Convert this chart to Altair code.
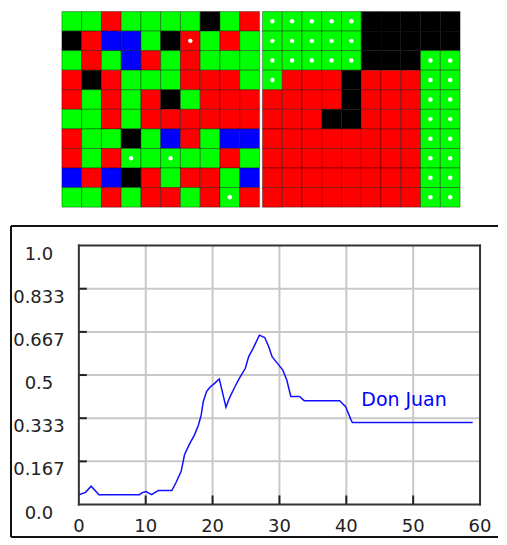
import altair as alt
import pandas as pd

# ---------------- data ----------------
left_rows = [
    "GGRGGGGKGR",
    "KRBBGKRGRG",
    "GRGBRGRGGG",
    "RKRGGGRRRG",
    "RGRGRKGRRR",
    "GGRGRRRRRR",
    "RGGKGBRGBB",
    "RGRGGGGGRG",
    "BRBKRGRRGB",
    "GGRGRRGRGR",
]
left_dots = [(1, 6), (7, 3), (7, 5), (9, 8)]

right_rows = [
    "GGGGGKKKKK",
    "GGGGGKKKKK",
    "GGGGGKKKGG",
    "GRRRKRRRGG",
    "RRRRKRRRGG",
    "RRRKKRRRGG",
    "RRRRRRRRGG",
    "RRRRRRRRGG",
    "RRRRRRRRGG",
    "RRRRRRRRGG",
]

line_x = [0, 1.0, 1.84, 3.0, 9.06, 9.56, 10.06, 10.4, 10.9, 11.4, 11.9, 13.9, 14.5, 15.3,
          15.8, 16.5, 17.3, 17.9, 18.3, 18.6, 19.1, 19.6, 20.3, 21.0, 21.4, 22.0, 22.5,
          23.3, 24.0, 24.9, 25.4, 26.1, 27.0, 27.8, 28.4, 28.9, 29.7, 30.5, 31.1, 31.7,
          33.0, 33.7, 39.0, 39.9, 40.7, 40.9, 58.9]
line_y = [0.038, 0.047, 0.071, 0.038, 0.038, 0.047, 0.050, 0.045, 0.038, 0.047, 0.054,
          0.054, 0.083, 0.128, 0.192, 0.231, 0.269, 0.308, 0.346, 0.397, 0.436, 0.453,
          0.468, 0.485, 0.442, 0.376, 0.410, 0.453, 0.487, 0.526, 0.571, 0.605, 0.654,
          0.645, 0.609, 0.571, 0.545, 0.519, 0.481, 0.417, 0.417, 0.401, 0.401, 0.378,
          0.327, 0.317, 0.317]
series_label = "Don Juan"

x_ticks = [0, 10, 20, 30, 40, 50, 60]
x_tick_labels = ["0", "10", "20", "30", "40", "50", "60"]
y_ticks = [0.0, 1 / 6, 2 / 6, 0.5, 4 / 6, 5 / 6, 1.0]
y_tick_labels = ["0.0", "0.167", "0.333", "0.5", "0.667", "0.833", "1.0"]

color_codes = ["G", "R", "B", "K"]
color_values = ["#00ff00", "#ff0000", "#0000ff", "#000000"]

W = 489

# ---------------- top grids ----------------
GX = [-2.6263, 22.0707]
right_offset = 10.1515

cells = []
dots = []
for off, rows, dotmode in [(0.0, left_rows, "list"), (right_offset, right_rows, "green")]:
    for r, row in enumerate(rows):
        for c, ch in enumerate(row):
            cells.append({"x": off + c, "x2": off + c + 1, "y": r, "y2": r + 1, "code": ch})
            has_dot = (r, c) in left_dots if dotmode == "list" else ch == "G"
            if has_dot:
                dots.append({"x": off + c + 0.5, "y": r + 0.5})
cells_df = pd.DataFrame(cells)
dots_df = pd.DataFrame(dots)

gxs = alt.Scale(domain=GX, nice=False, zero=False)
gys = alt.Scale(domain=[0, 10], nice=False, zero=False, reverse=True)

grid_rects = alt.Chart(cells_df).mark_rect(stroke="#000000", strokeOpacity=0.35, strokeWidth=1).encode(
    x=alt.X("x:Q", scale=gxs, axis=None),
    x2="x2:Q",
    y=alt.Y("y:Q", scale=gys, axis=None),
    y2="y2:Q",
    color=alt.Color("code:N", scale=alt.Scale(domain=color_codes, range=color_values), legend=None),
)
grid_dots = alt.Chart(dots_df).mark_circle(color="#ffffff", opacity=1, size=20).encode(
    x=alt.X("x:Q", scale=gxs, axis=None),
    y=alt.Y("y:Q", scale=gys, axis=None),
)
top = alt.layer(grid_rects, grid_dots).properties(width=W, height=196)

# ---------------- bottom line chart ----------------
XD = [-10.2985, 62.687]
YD = [-0.13102, 1.07900]
xs = alt.Scale(domain=XD, nice=False, zero=False)
ys = alt.Scale(domain=YD, nice=False, zero=False)


def seg_chart(df, **mark):
    return alt.Chart(df).mark_rule(**mark).encode(
        x=alt.X("x:Q", scale=xs, axis=None), x2="x2:Q",
        y=alt.Y("y:Q", scale=ys, axis=None), y2="y2:Q",
    )


grid_df = pd.DataFrame(
    [{"x": v, "x2": v, "y": 0, "y2": 1} for v in x_ticks[1:-1]]
    + [{"x": 0, "x2": 60, "y": v, "y2": v} for v in y_ticks[1:-1]]
)
tick_df = pd.DataFrame(
    [{"x": v, "x2": v, "y": 0, "y2": 0.035} for v in x_ticks[1:-1]]
    + [{"x": 0, "x2": 1.19, "y": v, "y2": v} for v in y_ticks[1:-1]]
)
xf, yt, yb = -10.149, 1.07514, -0.12524
frame_df = pd.DataFrame([
    {"x": xf, "x2": xf, "y": yb, "y2": yt},
    {"x": xf, "x2": XD[1], "y": yt, "y2": yt},
    {"x": xf, "x2": XD[1], "y": yb, "y2": yb},
])
border_df = pd.DataFrame([
    {"x": 0, "x2": 0, "y": 0, "y2": 1},
    {"x": 60, "x2": 60, "y": 0, "y2": 1},
    {"x": 0, "x2": 60, "y": 0, "y2": 0},
    {"x": 0, "x2": 60, "y": 1, "y2": 1},
])

gridlines = seg_chart(grid_df, color="#c8c8c8", strokeWidth=2)
ticks = seg_chart(tick_df, color="#222222", strokeWidth=2)
frame = seg_chart(frame_df, color="#111111", strokeWidth=2)
border = seg_chart(border_df, color="#333333", strokeWidth=2, strokeCap="square")

line_df = pd.DataFrame({"x": line_x, "y": line_y})
line = alt.Chart(line_df).mark_line(color="#1010ff", strokeWidth=1.5).encode(
    x=alt.X("x:Q", scale=xs, axis=None),
    y=alt.Y("y:Q", scale=ys, axis=None),
)

ylab_df = pd.DataFrame({"x": [-5.97] * len(y_ticks), "y": y_ticks, "t": y_tick_labels})
ylabels = alt.Chart(ylab_df).mark_text(
    font="DejaVu Sans", fontSize=18, align="center", baseline="top", color="#222222"
).encode(x=alt.X("x:Q", scale=xs, axis=None), y=alt.Y("y:Q", scale=ys, axis=None), text="t:N")

xlab_df = pd.DataFrame({"x": x_ticks, "y": [-0.08863] * len(x_ticks), "t": x_tick_labels})
xlabels = alt.Chart(xlab_df).mark_text(
    font="DejaVu Sans", fontSize=18, align="center", baseline="middle", color="#222222"
).encode(x=alt.X("x:Q", scale=xs, axis=None), y=alt.Y("y:Q", scale=ys, axis=None), text="t:N")

lab_df = pd.DataFrame({"x": [42.24], "y": [0.4027], "t": [series_label]})
series_text = alt.Chart(lab_df).mark_text(
    font="DejaVu Sans", fontSize=19, align="left", baseline="middle", color="#0000ff"
).encode(x=alt.X("x:Q", scale=xs, axis=None), y=alt.Y("y:Q", scale=ys, axis=None), text="t:N")

bottom = alt.layer(
    gridlines, ticks, border, frame, line, ylabels, xlabels, series_text
).properties(width=W, height=314)

chart = alt.vconcat(top, bottom, spacing=17).properties(
    padding={"left": 2, "top": 2, "right": 0, "bottom": 0},
    background="#ffffff",
).configure_view(strokeWidth=0)

chart.save("out.html", embed_options={"renderer": "svg", "actions": False})
